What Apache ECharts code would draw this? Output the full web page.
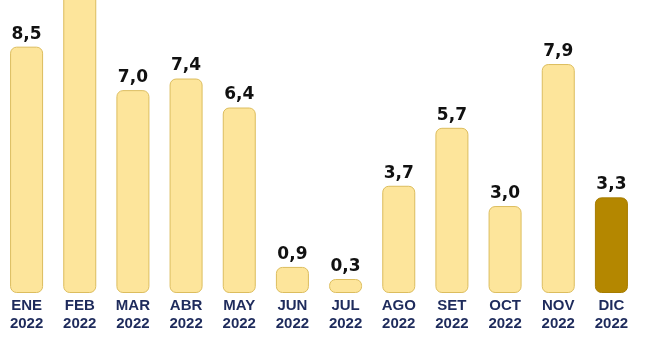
<!DOCTYPE html>
<html><head><meta charset="utf-8">
<script src="https://cdn.jsdelivr.net/npm/echarts@6/dist/echarts.min.js"></script>
<style>html,body{margin:0;padding:0;background:#fff;overflow:hidden}#c{width:645px;height:383px;margin-top:-20px}</style>
</head><body><div id="c"></div>
<script>
const months = ["ENE","FEB","MAR","ABR","MAY","JUN","JUL","AGO","SET","OCT","NOV","DIC"];
const year = "2022";
const values = [8.5, 11.0, 7.0, 7.4, 6.4, 0.9, 0.3, 3.7, 5.7, 3.0, 7.9, 3.3];
const showLabel = [true, false, true, true, true, true, true, true, true, true, true, true];
const highlightIndex = 11;

const chart = echarts.init(document.getElementById('c'), null, {renderer:'canvas'});
chart.setOption({
  animation:false,
  grid:{left:0, right:7, top:0, bottom:70},
  xAxis:{type:'category', data:months.map(m=>m+"\n"+year),
    axisLine:{show:false}, axisTick:{show:false},
    axisLabel:{color:'#1e2b5c', fontFamily:'Liberation Sans', fontWeight:'bold', fontSize:15, lineHeight:18, margin:4, interval:0}},
  yAxis:{type:'value', min:0, max:10.8, show:false, splitLine:{show:false}},
  series:[{type:'bar', barWidth:33, clip:true, barMinHeight:14,
    data: values.map((v,i)=>({value:v,
      itemStyle: i===highlightIndex ? {color:'#b48700', borderColor:'#a67c00', borderWidth:1, borderRadius:6}
                                    : {color:'#fde59b', borderColor:'#dcbd5e', borderWidth:1, borderRadius:6},
      label:{show:showLabel[i]}})),
    label:{show:true, position:'top', distance:4, color:'#111', fontFamily:'DejaVu Sans', fontWeight:'bold', fontSize:17,
      formatter:p=>p.value.toFixed(1).replace('.',',')}
  }]
});
</script></body></html>
